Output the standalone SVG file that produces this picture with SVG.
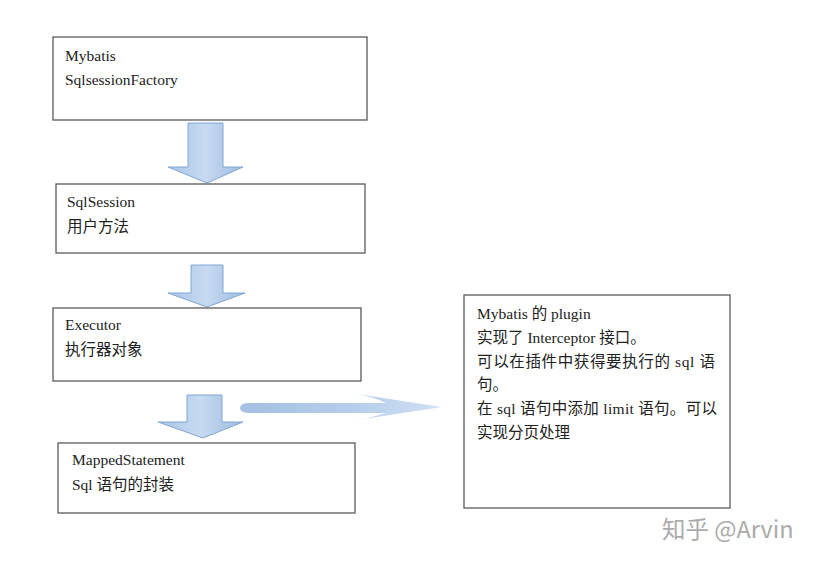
<svg xmlns="http://www.w3.org/2000/svg" width="823" height="563" viewBox="0 0 823 563">
<style>
.box{fill:#fff;stroke:#5a5a5a;stroke-width:1.3}
.t{font-family:"Liberation Serif","Noto Sans CJK SC",serif;font-size:15.5px;fill:#222}
.arr{fill:url(#ga);stroke:#7fa6d4;stroke-width:1}
.wm{font-family:"Noto Sans CJK SC","Noto Sans",sans-serif;font-size:23.5px;fill:#ababab}
</style>
<defs>
<linearGradient id="ga" x1="0" y1="0" x2="1" y2="0">
<stop offset="0" stop-color="#a9c5e6"/>
<stop offset="0.5" stop-color="#c7daf1"/>
<stop offset="1" stop-color="#9dbbe0"/>
</linearGradient>
<linearGradient id="gr" x1="0" y1="0" x2="1" y2="0">
<stop offset="0" stop-color="#a3c0e2"/>
<stop offset="0.6" stop-color="#b7cfeb"/>
<stop offset="1" stop-color="#d2e1f3"/>
</linearGradient>
</defs>
<rect width="823" height="563" fill="#fff"/>
<g id="connectors">
<path class="arr" d="M188,123 H223 V167 H243 L207,183 L168,167 H188 Z"/>
<path class="arr" d="M191,265 H223 V293 H245 L207,307 L168,293 H191 Z"/>
<path class="arr" d="M187,395 H222 V422 H243 L203,438 L158,422 H187 Z"/>
<path fill="url(#gr)" d="M240,408 Q240,403 250,403 L386,403 Q372,396 350,393 L442,407 L350,421 Q372,418 386,413 L250,413 Q240,413 240,408 Z"/>
</g>
<g id="n1">
<rect class="box" x="53" y="37" width="314" height="83"/>
<text class="t" x="65" y="61">Mybatis</text>
<text class="t" x="65" y="85">SqlsessionFactory</text>
</g>
<g id="n2">
<rect class="box" x="56" y="184" width="309" height="69"/>
<text class="t" x="67" y="207">SqlSession</text>
<text class="t" x="67" y="232">用户方法</text>
</g>
<g id="n3">
<rect class="box" x="53" y="308" width="308" height="73"/>
<text class="t" x="65" y="330">Executor</text>
<text class="t" x="65" y="355">执行器对象</text>
</g>
<g id="n4">
<rect class="box" x="58" y="443" width="297" height="70"/>
<text class="t" x="72" y="465">MappedStatement</text>
<text class="t" x="72" y="490">Sql 语句的封装</text>
</g>
<g id="n5">
<rect class="box" x="464" y="295" width="266" height="213"/>
<text class="t" x="477" y="319">Mybatis 的 plugin</text>
<text class="t" x="477" y="343">实现了 Interceptor 接口。</text>
<text class="t" x="477" y="367" textLength="238" lengthAdjust="spacing">可以在插件中获得要执行的 sql 语</text>
<text class="t" x="477" y="390">句。</text>
<text class="t" x="477" y="414" textLength="240" lengthAdjust="spacing">在 sql 语句中添加 limit 语句。可以</text>
<text class="t" x="477" y="438">实现分页处理</text>
</g>
<text class="wm" x="662" y="538">知乎 @Arvin</text>
</svg>
